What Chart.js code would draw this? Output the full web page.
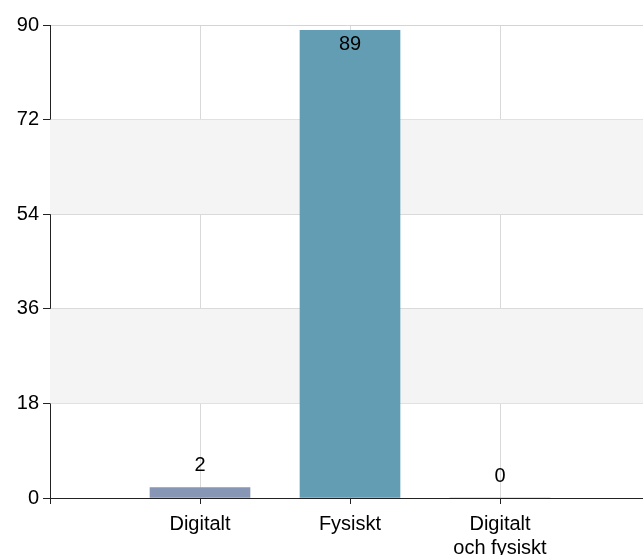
<!DOCTYPE html>
<html>
<head>
<meta charset="utf-8">
<script src="https://cdn.jsdelivr.net/npm/chart.js@4.4.1/dist/chart.umd.min.js"></script>
<style>
  html, body { margin: 0; padding: 0; background: #fff; overflow: hidden; }
  #wrap { position: relative; width: 643px; height: 555px; }
</style>
</head>
<body>
<div id="wrap"><canvas id="c"></canvas></div>
<script>
const categories = ['', 'Digitalt', 'Fysiskt', ['Digitalt', 'och fysiskt'], ''];
const values = [null, 2, 89, 0, null];
const barColors = ['#8796b5', '#8796b5', '#639db4', '#639db4', '#639db4'];
const yMin = 0, yMax = 90, yStep = 18;
const shadedBands = [[18, 36], [54, 72]];

const FONT = "'Liberation Sans', Arial, sans-serif";
const RIGHT_OVERFLOW = 7; // plot area runs slightly past the right edge of the canvas

const overflowPlugin = {
  id: 'overflow',
  afterLayout(chart) {
    const x = chart.scales.x;
    const newRight = chart.width + RIGHT_OVERFLOW;
    chart.chartArea.right = newRight;
    chart.chartArea.width = newRight - chart.chartArea.left;
    x.right = newRight;
    x.width = x.right - x.left;
    x.configure();
  }
};

const bandPlugin = {
  id: 'bands',
  beforeDatasetsDraw(chart) {
    const { ctx, chartArea, scales } = chart;
    ctx.save();
    ctx.fillStyle = '#f4f4f4';
    shadedBands.forEach(([a, b]) => {
      const y1 = scales.y.getPixelForValue(b);
      const y2 = scales.y.getPixelForValue(a);
      ctx.fillRect(chartArea.left, y1, chartArea.right - chartArea.left, y2 - y1);
    });
    ctx.restore();
  }
};

const labelPlugin = {
  id: 'vlabels',
  afterDatasetsDraw(chart) {
    const { ctx } = chart;
    const meta = chart.getDatasetMeta(0);
    ctx.save();
    ctx.font = '20px ' + FONT;
    ctx.fillStyle = '#000';
    ctx.textAlign = 'center';
    ctx.textBaseline = 'middle';
    meta.data.forEach((bar, i) => {
      const v = values[i];
      if (v === null || v === undefined) return;
      const h = bar.base - bar.y;
      const y = h > 40 ? bar.y + 14 : bar.y - 22;
      ctx.fillText(String(v), bar.x, y);
    });
    ctx.restore();
  }
};

new Chart(document.getElementById('c'), {
  type: 'bar',
  data: {
    labels: categories,
    datasets: [{
      data: values,
      backgroundColor: barColors,
      barThickness: 100,
      borderWidth: 0
    }]
  },
  options: {
    responsive: true,
    maintainAspectRatio: false,
    animation: false,
    layout: { padding: { top: 25, right: 0, left: 0, bottom: 0 } },
    plugins: { legend: { display: false }, tooltip: { enabled: false } },
    scales: {
      x: {
        offset: false,
        grid: { offset: false, color: '#d9d9d9', tickColor: '#222', tickLength: 6, drawOnChartArea: true },
        border: { color: '#222', width: 1 },
        ticks: { color: '#000', font: { family: FONT, size: 20 }, padding: 8, maxRotation: 0, autoSkip: false },
        afterFit(s) { s.height = 57; }
      },
      y: {
        min: yMin, max: yMax,
        grid: { color: '#d4d4d4', tickColor: '#222', tickLength: 7 },
        border: { color: '#222', width: 1 },
        ticks: { stepSize: yStep, color: '#000', font: { family: FONT, size: 20 }, padding: 4 },
        afterFit(s) { s.width = 50; }
      }
    }
  },
  plugins: [overflowPlugin, bandPlugin, labelPlugin]
});
</script>
</body>
</html>
